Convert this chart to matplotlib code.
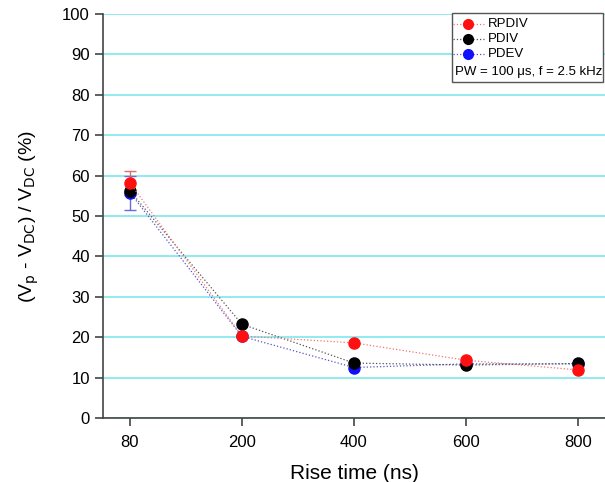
import numpy as np
import matplotlib.pyplot as plt
from matplotlib.lines import Line2D
from matplotlib.patches import Rectangle

plt.rcParams['font.family'] = ['Liberation Sans', 'DejaVu Sans']

# data
rise_time = ["80", "200", "400", "600", "800"]
rpdiv = [58.2, 20.3, 18.6, 14.3, 11.9]
pdiv = [56.2, 23.2, 13.6, 13.1, 13.5]
pdev = [55.8, 20.2, 12.5, 13.4, 13.4]
rpdiv_err = [2.9, 0, 0, 0, 0]
pdev_err = [4.2, 0, 0, 0, 0]

x = np.arange(len(rise_time))

fig = plt.figure(figsize=(6.05, 4.82), dpi=100)
ax = fig.add_axes([103 / 605, 64 / 482, 502 / 605, 404 / 482])

ax.set_yticks(np.arange(0, 101, 10))
ax.grid(axis='y', color='#7fe8ec', linewidth=1.2)
ax.set_axisbelow(True)

ax.errorbar(x[:1], pdev[:1], yerr=pdev_err[:1], fmt='none', ecolor='#6a6ad8',
            capsize=4, elinewidth=1, capthick=1)
ax.errorbar(x[:1], rpdiv[:1], yerr=rpdiv_err[:1], fmt='none', ecolor='#e86a6a',
            capsize=4, elinewidth=1, capthick=1)

styles = [
    (pdev, '#5555cc', '#1010ff', 'PDEV'),
    (pdiv, '#555555', 'black', 'PDIV'),
    (rpdiv, '#ee7777', '#ff1010', 'RPDIV'),
]
for ys, lc, mc, name in styles:
    ax.plot(x, ys, ':', color=lc, linewidth=0.9, marker='o', markersize=8,
            markerfacecolor=mc, markeredgecolor=mc)

ax.set_xticks(x)
ax.set_xticklabels(rise_time)
ax.set_xlim(-0.24, 4.24)
ax.set_ylim(0, 100)
ax.spines['top'].set_visible(False)
ax.spines['right'].set_visible(False)
for s in ['left', 'bottom']:
    ax.spines[s].set_color('#444444')
    ax.spines[s].set_linewidth(1.2)
ax.tick_params(direction='out', length=6, width=1.2, color='#444444', labelsize=12)
ax.tick_params(axis='x', pad=6)

ax.set_xlabel("Rise time (ns)", fontsize=15, labelpad=10)
ax.set_ylabel("(V$_\\mathrm{p}$ - V$_\\mathrm{DC}$) / V$_\\mathrm{DC}$ (%)", fontsize=14, labelpad=15)

# legend box drawn by hand so the extra text line fits in it
px = lambda v: v / 605
py = lambda v: 1 - v / 482
fig.patches.append(Rectangle((px(452), py(82)), px(603) - px(452), py(13) - py(82),
                             transform=fig.transFigure, facecolor='white',
                             edgecolor='#555555', linewidth=1.0, zorder=5))
rows = [24, 39, 54]
for (ys, lc, mc, name), yy in zip(styles[::-1], rows):
    fig.add_artist(Line2D([px(453), px(484)], [py(yy), py(yy)], linestyle=':',
                          color=lc, linewidth=0.9, zorder=6))
    fig.add_artist(Line2D([px(468)], [py(yy)], marker='o', markersize=7,
                          markerfacecolor=mc, markeredgecolor=mc, zorder=7))
    fig.text(px(488), py(yy), name, fontsize=9.5, va='center', ha='left', zorder=7)
fig.text(px(455), py(72), 'PW = 100 \u03bcs, f = 2.5 kHz', fontsize=9.5,
         va='center', ha='left', zorder=7)

fig.savefig("out.png", dpi=100)
